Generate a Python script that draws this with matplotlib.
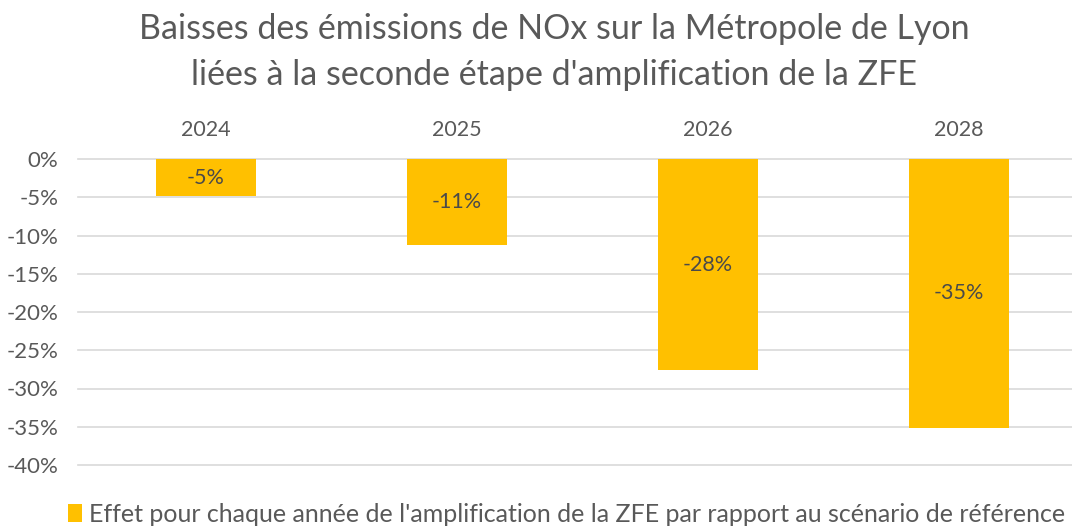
import matplotlib.pyplot as plt
from matplotlib.ticker import FuncFormatter

annees = ["2024", "2025", "2026", "2028"]
baisses = [-4.9, -11.2, -27.6, -35.1]
etiquettes = ["-5%", "-11%", "-28%", "-35%"]
graduations = [0, -5, -10, -15, -20, -25, -30, -35, -40]

TITRE = "Baisses des émissions de NOx sur la Métropole de Lyon\nliées à la seconde étape d'amplification de la ZFE"
LEGENDE = "Effet pour chaque année de l'amplification de la ZFE par rapport au scénario de référence"

JAUNE = "#FFC000"
GRIS = "#595959"

plt.rcParams["font.family"] = ["Lato", "DejaVu Sans"]

fig = plt.figure(figsize=(10.72, 5.29), dpi=100)
ax = fig.add_axes([78 / 1072, 1 - 465 / 529, 1 - 78 / 1072, 306 / 529])

x = list(range(len(annees)))
barres = ax.bar(x, baisses, width=0.40, color=JAUNE, zorder=2, label=LEGENDE)

for xi, val, txt in zip(x, baisses, etiquettes):
    ax.text(xi, val / 2, txt, ha="center", va="center", fontsize=15.5, color="#4a4a4a", zorder=3)

ax.set_ylim(-40, 0)
ax.set_xlim(-0.51, 3.45)
ax.set_yticks(graduations)
ax.yaxis.set_major_formatter(FuncFormatter(lambda v, p: f"{int(v)}%"))
ax.grid(axis="y", color="#D9D9D9", linewidth=1.2, zorder=0)
for ligne in ax.get_ygridlines():
    ligne.set_clip_on(False)

ax.xaxis.tick_top()
ax.set_xticks(x)
ax.set_xticklabels(annees)
ax.tick_params(axis="x", length=0, pad=14, labelsize=15.5, labelcolor=GRIS)
ax.tick_params(axis="y", length=0, pad=14, labelsize=16, labelcolor=GRIS)
for s in ax.spines.values():
    s.set_visible(False)

fig.text(0.517, 0.975, TITRE, ha="center", va="top", fontsize=24.5, color=GRIS, linespacing=1.52)

fig.legend(loc="lower center", bbox_to_anchor=(0.5285, -0.036), frameon=False, fontsize=18,
           labelcolor=GRIS, handlelength=0.55, handleheight=0.75, handletextpad=0.3)

fig.savefig("out.png", dpi=100)
